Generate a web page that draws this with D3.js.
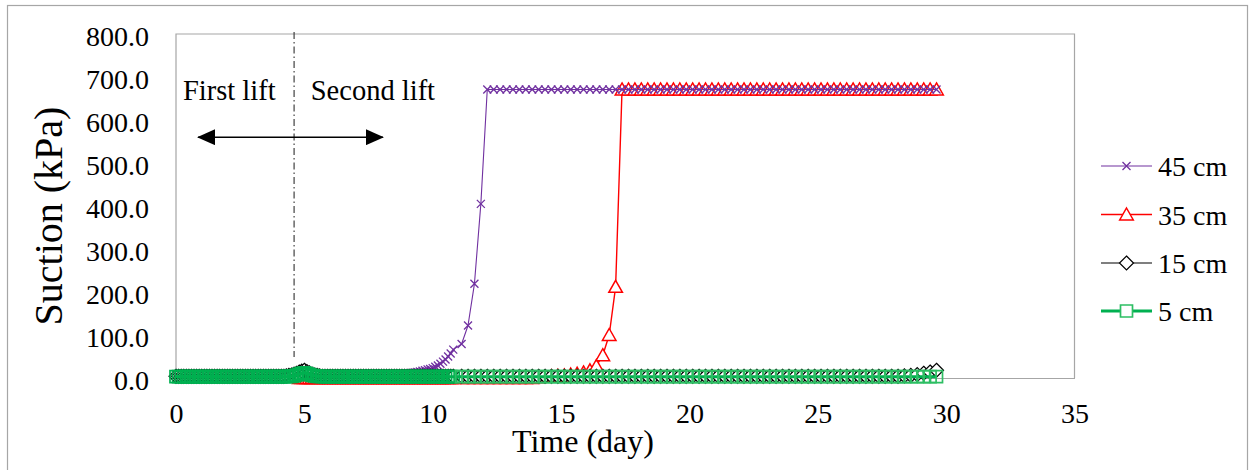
<!DOCTYPE html>
<html>
<head>
<meta charset="utf-8">
<script src="https://cdn.jsdelivr.net/npm/d3@7"></script>
<style>
  html, body { margin: 0; padding: 0; background: #fff; }
  svg text { font-family: "Liberation Serif", "Tinos", "DejaVu Serif", "Noto Serif", serif !important; fill: #000; }
</style>
</head>
<body>
<svg id="chart" width="1253" height="470"></svg>
<script>
// Logging intervals (days): hourly-ish record up to ~10.8 d, then every 6 h
const denseStep = 0.1;
const sparseStart = 11.125;
const sparseStep = 0.25;

const xTicks = [0, 5, 10, 15, 20, 25, 30, 35];
const yTicks = [0, 100, 200, 300, 400, 500, 600, 700, 800];
const seriesNames = ["45 cm", "35 cm", "15 cm", "5 cm"];

// 45 cm sensor (second lift), dense record from day 4.8
const s45DenseStart = 4.8;
const s45Dense = [
  3, 3,                                  // 4.8-4.9
  3, 3, 3, 3, 3, 3, 3, 3, 3, 3,          // 5.0-5.9
  3, 3, 3, 3, 3, 3, 3, 3, 3, 3,          // 6.0-6.9
  3, 3, 3, 3, 3, 3, 3, 3, 3, 3,          // 7.0-7.9
  4, 4, 5, 5, 6, 6, 7, 7, 8, 9,          // 8.0-8.9
  10, 11, 12, 13, 14, 15, 17, 18, 20, 21, // 9.0-9.9
  23, 26, 29, 33, 38, 43, 50, 57, 66     // 10.0-10.8
];
const s45Sparse = [
  79, 122, 219, 405, 671, 671, 671, 671, 671, 671,
  671, 671, 671, 671, 671, 671, 671, 671, 671, 671,
  671, 671, 671, 671, 671, 671, 671, 671, 671, 671,
  671, 671, 671, 671, 671, 671, 671, 671, 671, 671,
  671, 671, 671, 671, 671, 671, 671, 671, 671, 671,
  671, 671, 671, 671, 671, 671, 671, 671, 671, 671,
  671, 671, 671, 671, 671, 671, 671, 671, 671, 671,
  671, 671, 671, 671, 671
];

// 35 cm sensor (second lift)
const s35DenseStart = 4.8;
const s35Dense = [
  0, 0,
  0, 0, 0, 0, 0, 0, 0, 0, 0, 0,
  0, 0, 0, 0, 0, 0, 0, 0, 0, 0,
  0, 0, 0, 0, 0, 0, 0, 0, 0, 0,
  0, 0, 0, 0, 0, 0, 0, 0, 0, 0,
  0, 0, 0, 0, 0, 0, 0, 0, 0, 0,
  0, 0, 0, 0, 0, 0, 0, 0, 0
];
const s35Sparse = [
  0, 0, 0, 0, 0, 0, 0, 0, 0, 0,
  0, 0, 2, 3, 4, 5, 6, 8, 10, 13,
  18, 28, 53, 100, 212, 671, 671, 671, 671, 671,
  671, 671, 671, 671, 671, 671, 671, 671, 671, 671,
  671, 671, 671, 671, 671, 671, 671, 671, 671, 671,
  671, 671, 671, 671, 671, 671, 671, 671, 671, 671,
  671, 671, 671, 671, 671, 671, 671, 671, 671, 671,
  671, 671, 671, 671, 671
];

// 15 cm sensor (first lift)
const s15DenseStart = 0;
const s15Dense = [
  4, 4, 4, 4, 4, 4, 4, 4, 4, 4,          // 0.0-0.9
  4, 4, 4, 4, 4, 4, 4, 4, 4, 4,
  4, 4, 4, 4, 4, 4, 4, 4, 4, 4,
  4, 4, 4, 4, 4, 4, 4, 4, 4, 4,
  4, 4, 4, 5, 6, 7, 9, 11, 14, 16,       // 4.0-4.9
  18, 15, 12, 9, 7, 6, 5, 4, 4, 4,       // 5.0-5.9
  4, 4, 4, 4, 4, 4, 4, 4, 4, 4,
  4, 4, 4, 4, 4, 4, 4, 4, 4, 4,
  4, 4, 4, 4, 4, 4, 4, 4, 4, 4,
  4, 4, 4, 4, 4, 4, 4, 4, 4, 4,
  4, 4, 4, 4, 4, 4, 4, 4, 4              // 10.0-10.8
];
const s15Sparse = [
  4, 4, 4, 4, 4, 4, 4, 4, 4, 4,
  4, 4, 4, 4, 4, 4, 4, 4, 4, 4,
  4, 4, 4, 4, 4, 4, 4, 4, 4, 4,
  4, 4, 4, 4, 4, 4, 4, 4, 4, 4,
  4, 4, 4, 4, 4, 4, 4, 4, 4, 4,
  4, 4, 4, 4, 4, 4, 4, 4, 4, 4,
  4, 4, 4, 4, 4, 4, 4, 4, 4, 5,
  6, 8, 11, 14, 18
];

// 5 cm sensor (first lift)
const s5DenseStart = 0;
const s5Dense = [
  3, 3, 3, 3, 3, 3, 3, 3, 3, 3,
  3, 3, 3, 3, 3, 3, 3, 3, 3, 3,
  3, 3, 3, 3, 3, 3, 3, 3, 3, 3,
  3, 3, 3, 3, 3, 3, 3, 3, 3, 3,
  3, 3, 3, 3, 4, 4, 5, 7, 9, 11,         // 4.0-4.9
  12, 10, 8, 6, 5, 4, 4, 3, 3, 3,        // 5.0-5.9
  3, 3, 3, 3, 3, 3, 3, 3, 3, 3,
  3, 3, 3, 3, 3, 3, 3, 3, 3, 3,
  3, 3, 3, 3, 3, 3, 3, 3, 3, 3,
  3, 3, 3, 3, 3, 3, 3, 3, 3, 3,
  3, 3, 3, 3, 3, 3, 3, 3, 3
];
const s5Sparse = [
  3, 3, 3, 3, 3, 3, 3, 3, 3, 3,
  3, 3, 3, 3, 3, 3, 3, 3, 3, 3,
  3, 3, 3, 3, 3, 3, 3, 3, 3, 3,
  3, 3, 3, 3, 3, 3, 3, 3, 3, 3,
  3, 3, 3, 3, 3, 3, 3, 3, 3, 3,
  3, 3, 3, 3, 3, 3, 3, 3, 3, 3,
  3, 3, 3, 3, 3, 3, 3, 3, 3, 3,
  3, 3, 3, 3, 3
];

// Lift boundary and annotation positions (data units)
const liftBoundaryDay = 4.6;
const arrowFrom = 0.86, arrowTo = 8.06, arrowLevel = 560;

// ---------------------------------------------------------------
const svg = d3.select("#chart");
const plot = { left: 176, right: 1074.5, top: 34, bottom: 378 };

const x = d3.scaleLinear().domain([0, 35]).range([plot.left, plot.right]);
const y = d3.scaleLinear().domain([0, 800]).range([plot.bottom, plot.top]);

function toPoints(start, dense, sparse) {
  const pts = dense.map((v, i) => ({ t: start + i * denseStep, v, dense: true }));
  sparse.forEach((v, k) => pts.push({ t: sparseStart + k * sparseStep, v, dense: false }));
  return pts;
}

const markerPaths = {
  x: "M-4,-4L4,4M-4,4L4,-4",
  tri: "M0,-6.5L6.8,5.5L-6.8,5.5Z",
  dia: "M0,-7L7,0L0,7L-7,0Z",
  sq: "M-6,-6H6V6H-6Z"
};

const series = [
  { name: seriesNames[0], pts: toPoints(s45DenseStart, s45Dense, s45Sparse),
    color: "#7030A0", lw: 1.1, marker: "x", mStroke: "#7030A0", mDense: "#7030A0", mFill: "none", mw: 1.3 },
  { name: seriesNames[1], pts: toPoints(s35DenseStart, s35Dense, s35Sparse),
    color: "#FF0000", lw: 1.4, marker: "tri", mStroke: "#FF0000", mDense: "#FF0000", mFill: "#fff", mw: 1.5 },
  { name: seriesNames[2], pts: toPoints(s15DenseStart, s15Dense, s15Sparse),
    color: "#000000", lw: 1.2, marker: "dia", mStroke: "#000000", mDense: "#000000", mFill: "#fff", mw: 1.2 },
  { name: seriesNames[3], pts: toPoints(s5DenseStart, s5Dense, s5Sparse),
    color: "#00B050", lw: 3, marker: "sq", mStroke: "#2DBE63", mDense: "#00B050", mFill: "none", mw: 1.7 }
];

// outer chart frame
svg.append("rect")
  .attr("x", 7.5).attr("y", 5.5).attr("width", 1240).attr("height", 480)
  .attr("fill", "none").attr("stroke", "#A6A6A6").attr("stroke-width", 1.2);

// plot frame
svg.append("path")
  .attr("d", `M${plot.left},${plot.bottom}V${plot.top}H${plot.right}V${plot.bottom}`)
  .attr("fill", "none").attr("stroke", "#A6A6A6").attr("stroke-width", 1.2);

// axes
const xAxis = d3.axisBottom(x).tickValues(xTicks).tickSize(0).tickPadding(0).tickFormat(d3.format("d"));
const gx = svg.append("g").attr("transform", `translate(0,${plot.bottom})`).call(xAxis)
  .attr("font-family", null).attr("font-size", null);
gx.select(".domain").attr("stroke", "#A6A6A6").attr("stroke-width", 1.2);
gx.selectAll("text").attr("font-size", 28).attr("dy", 45).attr("y", 0);

const yAxis = d3.axisLeft(y).tickValues(yTicks).tickSize(0).tickPadding(0).tickFormat(d3.format(".1f"));
const gy = svg.append("g").attr("transform", `translate(${plot.left},0)`).call(yAxis)
  .attr("font-family", null).attr("font-size", null);
gy.select(".domain").remove();
gy.selectAll("text").attr("font-size", 28).attr("x", -27).attr("dy", 11);

// axis titles
svg.append("text").attr("x", 583).attr("y", 452).attr("text-anchor", "middle")
  .attr("font-size", 32).text("Time (day)");
svg.append("text").attr("transform", "translate(62,216) rotate(-90)")
  .attr("text-anchor", "middle").attr("font-size", 40).text("Suction (kPa)");

// lift boundary (dash-dot)
svg.append("line")
  .attr("x1", x(liftBoundaryDay)).attr("x2", x(liftBoundaryDay))
  .attr("y1", 32).attr("y2", 357)
  .attr("stroke", "#404040").attr("stroke-width", 1.2)
  .attr("stroke-dasharray", "7,3,1.5,3");

// double-headed arrow
const defs = svg.append("defs");
defs.append("marker").attr("id", "ahead").attr("viewBox", "0 0 18 16")
  .attr("refX", 17).attr("refY", 8).attr("markerWidth", 18).attr("markerHeight", 16)
  .attr("markerUnits", "userSpaceOnUse").attr("orient", "auto-start-reverse")
  .append("path").attr("d", "M0,0L18,8L0,16Z").attr("fill", "#000");
svg.append("line")
  .attr("x1", x(arrowFrom)).attr("x2", x(arrowTo))
  .attr("y1", y(arrowLevel)).attr("y2", y(arrowLevel))
  .attr("stroke", "#000").attr("stroke-width", 1.5)
  .attr("marker-start", "url(#ahead)").attr("marker-end", "url(#ahead)");

svg.append("text").attr("x", x(0.27)).attr("y", y(647)).attr("font-size", 28.5).text("First lift");
svg.append("text").attr("x", x(5.25)).attr("y", y(647)).attr("font-size", 28.5).text("Second lift");

// series: draw order keeps the 5 cm band on top
const drawOrder = [1, 0, 2, 3];
const line = d3.line().x(d => x(d.t)).y(d => y(d.v));
drawOrder.forEach(i => {
  const s = series[i];
  const g = svg.append("g");
  g.append("path").datum(s.pts).attr("d", line)
    .attr("fill", "none").attr("stroke", s.color).attr("stroke-width", s.lw)
    .attr("stroke-linejoin", "round");
  g.selectAll("path.m").data(s.pts).join("path").attr("class", "m")
    .attr("transform", d => `translate(${x(d.t)},${y(d.v)})`)
    .attr("d", markerPaths[s.marker])
    .attr("fill", s.mFill)
    .attr("stroke", d => d.dense ? s.mDense : s.mStroke)
    .attr("stroke-width", s.mw);
});

// legend
const legendY = [166, 214.5, 263, 311];
const lg = svg.append("g");
series.forEach((s, i) => {
  const ly = legendY[i];
  lg.append("line").attr("x1", 1101).attr("x2", 1152).attr("y1", ly).attr("y2", ly)
    .attr("stroke", s.color).attr("stroke-width", s.lw);
  lg.append("path").attr("transform", `translate(1126.5,${ly})`)
    .attr("d", markerPaths[s.marker])
    .attr("fill", s.marker === "x" ? "none" : "#fff")
    .attr("stroke", s.mStroke).attr("stroke-width", s.mw);
  lg.append("text").attr("x", 1158).attr("y", ly + 10).attr("font-size", 28).text(s.name);
});
</script>
</body>
</html>
